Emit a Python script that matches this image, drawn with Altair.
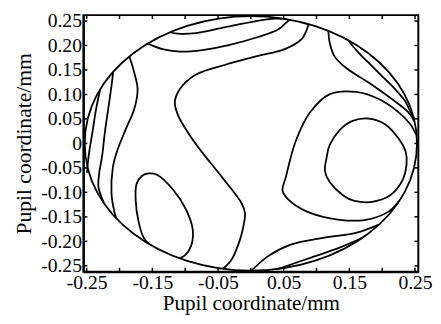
import altair as alt
import pandas as pd

# ---- axis ticks / labels ----
X_TICKS = [-0.25, -0.2, -0.15, -0.1, -0.05, 0.0, 0.05, 0.1, 0.15, 0.2, 0.25]
X_LABELS = ["-0.25", "", "-0.15", "", "-0.05", "", "0.05", "", "0.15", "", "0.25"]
Y_TICKS = [0.25, 0.2, 0.15, 0.1, 0.05, 0.0, -0.05, -0.1, -0.15, -0.2, -0.25]
Y_LABELS = ["0.25", "0.20", "0.15", "0.10", "0.05", "0", "-0.05", "-0.10", "-0.15", "-0.20", "-0.25"]
X_DOMAIN = [-0.255, 0.255]
Y_DOMAIN = [-0.262, 0.262]
AXIS_TITLE = "Pupil coordinate/mm"

# ---- pupil boundary ----
PUPIL_X = [0.253, 0.234, 0.179, 0.097, 0.0, -0.097, -0.179, -0.234,
           -0.253, -0.234, -0.179, -0.097, 0.0, 0.097, 0.179, 0.234]
PUPIL_Y = [0.0, 0.100, 0.184, 0.240, 0.260, 0.240, 0.184, 0.100,
           0.0, -0.100, -0.184, -0.240, -0.260, -0.240, -0.184, -0.100]

# ---- contour lines ----
C1_X = [-0.123, -0.111, -0.0835, -0.0437, 0.006, 0.0358, 0.055]
C1_Y = [0.227, 0.224, 0.2253, 0.236, 0.2493, 0.2547, 0.254]
C2_X = [-0.157, -0.148, -0.133, -0.108, -0.0736, -0.0338, 0.0109, 0.0408, 0.0517, 0.0586]
C2_Y = [0.204, 0.1987, 0.192, 0.1873, 0.1907, 0.2007, 0.2173, 0.232, 0.244, 0.253]
C3_X = [0.088, 0.078, 0.0507, 0.0109, -0.0388, -0.0835, -0.1083, -0.1158, -0.1108,
        -0.0934, -0.0736, -0.0437, -0.0139, -0.0089, -0.0114, -0.0164, -0.0288, -0.042]
C3_Y = [0.2437, 0.214, 0.192, 0.1787, 0.1607, 0.1407, 0.1107, 0.084, 0.0573,
        0.0173, -0.0193, -0.0693, -0.1227, -0.1427, -0.1693, -0.196, -0.236, -0.256]
C4_X = [-0.185, -0.1774, -0.1725, -0.1774, -0.1899, -0.2038, -0.2102, -0.2122, -0.2073, -0.205]
C4_Y = [0.1775, 0.144, 0.1107, 0.0707, 0.0307, -0.016, -0.0493, -0.1027, -0.1427, -0.1527]
C5_X = [-0.2097, -0.2122, -0.2172, -0.2222, -0.2262, -0.2311, -0.2321, -0.2275, -0.2237]
C5_Y = [0.1455, 0.1173, 0.0707, 0.024, -0.0227, -0.0627, -0.0893, -0.1093, -0.1214]
C6_X = [-0.2296, -0.2356, -0.2411, -0.246, -0.2485, -0.2494]
C6_Y = [0.109, 0.0707, 0.024, -0.016, -0.0427, -0.06]
C7_X = [0.118, 0.1203, 0.1277, 0.1451, 0.1799, 0.2147, 0.2396, 0.249]
C7_Y = [0.230, 0.204, 0.1773, 0.154, 0.124, 0.0907, 0.064, 0.0453]
C8_X = [0.1476, 0.165, 0.1849, 0.2048, 0.2197, 0.2346, 0.242, 0.2489]
C8_Y = [0.2112, 0.184, 0.1573, 0.1307, 0.1107, 0.0873, 0.0673, 0.0493]
C9_X = [0.252, 0.242, 0.2247, 0.1948, 0.16, 0.1203, 0.0905, 0.0681, 0.0532,
        0.0482, 0.0557, 0.0855, 0.1352, 0.175, 0.2097, 0.2256]
C9_Y = [0.0173, 0.0407, 0.064, 0.0907, 0.1053, 0.1007, 0.064, 0.004, -0.0693,
        -0.096, -0.1127, -0.1393, -0.156, -0.156, -0.1393, -0.1177]
C10_X = [0.1128, 0.1153, 0.1203, 0.1352, 0.1551, 0.1799, 0.2048, 0.2247,
         0.2356, 0.2371, 0.2306, 0.2122, 0.1849, 0.1576, 0.1402, 0.1203]
C10_Y = [-0.056, -0.0293, -0.0027, 0.0273, 0.046, 0.0507, 0.0387, 0.0107,
         -0.016, -0.0427, -0.076, -0.106, -0.1193, -0.1173, -0.106, -0.0793]
C11_X = [0.001, 0.0258, 0.0606, 0.1103, 0.16, 0.1948]
C11_Y = [-0.26, -0.2307, -0.2067, -0.1927, -0.1827, -0.1659]
C12_X = [0.0408, 0.0855, 0.1352, 0.17]
C12_Y = [-0.2566, -0.236, -0.2127, -0.1926]
C13_X = [-0.1556, -0.163, -0.1705, -0.1754, -0.174, -0.1655, -0.1556, -0.1431,
         -0.1183, -0.0984, -0.0885, -0.091, -0.1009, -0.1093]
C13_Y = [-0.205, -0.193, -0.1627, -0.116, -0.0827, -0.066, -0.0613, -0.064,
         -0.0947, -0.136, -0.176, -0.2093, -0.2293, -0.2345]

OPEN = {"c1": (C1_X, C1_Y), "c2": (C2_X, C2_Y), "c3": (C3_X, C3_Y), "c4": (C4_X, C4_Y),
        "c5": (C5_X, C5_Y), "c6": (C6_X, C6_Y), "c7": (C7_X, C7_Y), "c8": (C8_X, C8_Y),
        "c9": (C9_X, C9_Y), "c11": (C11_X, C11_Y), "c12": (C12_X, C12_Y), "c13": (C13_X, C13_Y)}
CLOSED = {"pupil": (PUPIL_X, PUPIL_Y), "c10": (C10_X, C10_Y)}


def to_df(d):
    rows = []
    for name, (xs, ys) in d.items():
        for i, (x, y) in enumerate(zip(xs, ys)):
            rows.append({"name": name, "i": i, "x": x, "y": y})
    return pd.DataFrame(rows)


open_df = to_df(OPEN)
closed_df = to_df(CLOSED)

# inward tick marks on all four sides
TX = 0.006  # tick length in x-data units
TY = 0.008  # tick length in y-data units
tick_rows = []
for v in X_TICKS:
    tick_rows.append({"x": v, "x2": v, "y": Y_DOMAIN[0], "y2": Y_DOMAIN[0] + TY})
    tick_rows.append({"x": v, "x2": v, "y": Y_DOMAIN[1], "y2": Y_DOMAIN[1] - TY})
for v in Y_TICKS:
    tick_rows.append({"x": X_DOMAIN[0], "x2": X_DOMAIN[0] + TX, "y": v, "y2": v})
    tick_rows.append({"x": X_DOMAIN[1], "x2": X_DOMAIN[1] - TX, "y": v, "y2": v})
ticks_df = pd.DataFrame(tick_rows)


def label_expr(values, labels):
    expr = "''"
    for v, lab in reversed(list(zip(values, labels))):
        expr = f"abs(datum.value - ({v})) < 1e-6 ? '{lab}' : ({expr})"
    return expr


FONT = "Liberation Serif"
x_expr = label_expr(X_TICKS, X_LABELS)
y_expr = label_expr(Y_TICKS, Y_LABELS)

xs = alt.Scale(domain=X_DOMAIN, nice=False, zero=False)
ys = alt.Scale(domain=Y_DOMAIN, nice=False, zero=False)

x_axis = alt.Axis(values=X_TICKS, labelExpr=x_expr, ticks=False, grid=False,
                  labelFont=FONT, labelFontSize=20, labelColor="black", labelPadding=1,
                  labelOverlap=False, labelFlush=False, title=AXIS_TITLE, titleFont=FONT,
                  titleFontSize=21.5, titleFontWeight="normal", titleColor="black",
                  titlePadding=1, domainColor="black", domainWidth=2)
y_axis = alt.Axis(values=Y_TICKS, labelExpr=y_expr, ticks=False, grid=False,
                  labelFont=FONT, labelFontSize=20, labelColor="black", labelPadding=2,
                  labelOverlap=False, labelFlush=False, title=AXIS_TITLE, titleFont=FONT,
                  titleFontSize=22, titleFontWeight="normal", titleColor="black",
                  titlePadding=5, domainColor="black", domainWidth=2)

X_ENC = alt.X("x:Q", scale=xs, axis=x_axis)
Y_ENC = alt.Y("y:Q", scale=ys, axis=y_axis)

open_lines = alt.Chart(open_df).mark_line(
    interpolate="catmull-rom", color="black", strokeWidth=1.8
).encode(x=X_ENC, y=Y_ENC, detail="name:N", order="i:Q")

closed_lines = alt.Chart(closed_df).mark_line(
    interpolate="cardinal-closed", color="black", strokeWidth=1.8
).encode(x=X_ENC, y=Y_ENC, detail="name:N", order="i:Q")

tick_marks = alt.Chart(ticks_df).mark_rule(color="black", strokeWidth=1.5).encode(
    x=X_ENC, x2="x2:Q", y=Y_ENC, y2="y2:Q",
)

chart = alt.layer(closed_lines, open_lines, tick_marks).properties(
    width=342, height=262,
    padding={"left": 5, "top": 0, "right": 0, "bottom": 0},
    background="white",
).configure_view(stroke="black", strokeWidth=2).configure_axis(labelOverlap=False)

chart.save("out.html", embed_options={"renderer": "svg", "actions": False})
